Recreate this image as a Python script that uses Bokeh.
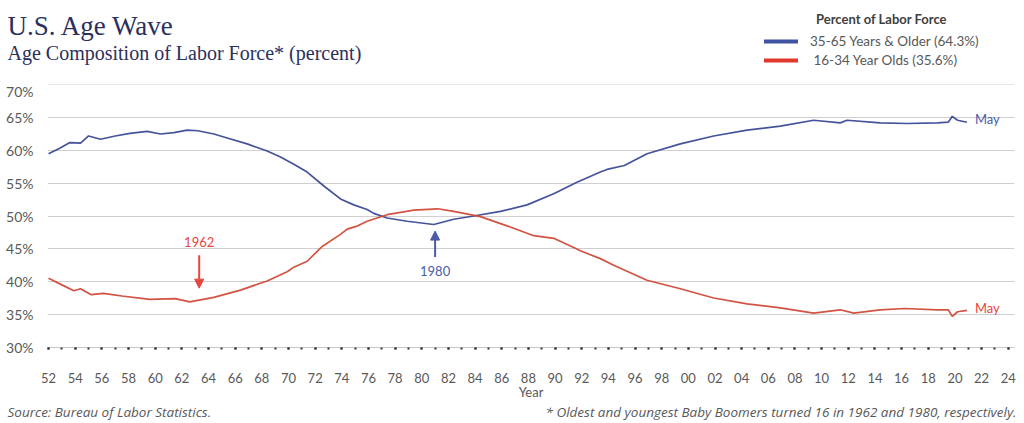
from bokeh.plotting import figure
from bokeh.layouts import column
from bokeh.models import Label, Arrow, NormalHead, FixedTicker, PrintfTickFormatter, Legend, LegendItem
from bokeh.embed import file_html
from bokeh.resources import INLINE

# ---- data ----
older_years = [1952.0, 1952.8, 1953.6, 1954.4, 1955.0, 1955.9, 1957.0, 1958.1, 1959.4, 1960.4,
               1961.4, 1962.4, 1963.2, 1964.4, 1965.4, 1966.9, 1968.4, 1969.4, 1970.4, 1971.4,
               1972.7, 1973.9, 1974.9, 1975.9, 1976.4, 1977.4, 1978.9, 1980.9, 1982.4, 1983.9,
               1985.9, 1987.9, 1989.9, 1991.6, 1993.4, 1993.9, 1995.2, 1996.9, 1999.4, 2001.9,
               2004.4, 2006.9, 2009.4, 2011.4, 2011.9, 2014.4, 2016.4, 2018.7, 2019.5, 2019.8,
               2020.2, 2020.9]
older_pct = [59.5, 60.3, 61.2, 61.1, 62.2, 61.7, 62.2, 62.6, 62.9, 62.5,
             62.7, 63.1, 63.0, 62.5, 61.9, 61.0, 59.9, 59.0, 57.9, 56.7,
             54.5, 52.6, 51.7, 51.0, 50.4, 49.7, 49.2, 48.7, 49.5, 50.0,
             50.7, 51.7, 53.4, 55.1, 56.7, 57.1, 57.7, 59.5, 61.0, 62.2,
             63.1, 63.7, 64.6, 64.2, 64.6, 64.2, 64.1, 64.2, 64.3, 65.2,
             64.6, 64.3]

young_years = [1952.0, 1953.0, 1953.9, 1954.4, 1955.2, 1956.1, 1957.5, 1959.6, 1961.5, 1962.6,
               1964.4, 1966.4, 1968.4, 1969.9, 1970.4, 1971.4, 1972.5, 1973.9, 1974.4, 1975.2,
               1975.9, 1977.4, 1979.4, 1981.2, 1982.4, 1984.4, 1986.4, 1988.4, 1989.9, 1991.4,
               1991.9, 1993.4, 1994.4, 1996.9, 1999.4, 2001.9, 2004.4, 2006.9, 2009.4, 2011.4,
               2012.4, 2014.4, 2016.2, 2018.7, 2019.5, 2019.8, 2020.2, 2020.9]
young_pct = [40.5, 39.5, 38.6, 38.9, 38.0, 38.2, 37.8, 37.3, 37.4, 36.9,
             37.6, 38.7, 40.1, 41.5, 42.2, 43.1, 45.3, 47.2, 48.0, 48.5,
             49.2, 50.2, 50.9, 51.1, 50.7, 49.9, 48.5, 47.0, 46.6, 45.2,
             44.7, 43.5, 42.5, 40.2, 38.9, 37.5, 36.6, 36.0, 35.2, 35.7,
             35.2, 35.7, 35.9, 35.7, 35.7, 34.7, 35.4, 35.6]

x_ticks = list(range(1952, 2025, 2))
x_tick_labels = ["52", "54", "56", "58", "60", "62", "64", "66", "68", "70", "72", "74",
                 "76", "78", "80", "82", "84", "86", "88", "90", "92", "94", "96", "98",
                 "00", "02", "04", "06", "08", "10", "12", "14", "16", "18", "20", "22", "24"]
x_minor = list(range(1952, 2025))
y_ticks = [30, 35, 40, 45, 50, 55, 60, 65, 70]

legend_labels = ["35-65 Years & Older (64.3%)", " 16-34 Year Olds (35.6%)"]

# ---- styling ----
W = 1020
SANS = "Lato"
SERIF = "Liberation Serif"
NAVY = "#2b2f5e"
BLUE_LINE = "#3b4a96"
RED_LINE = "#d04a38"
BLUE_TXT = "#4a5ca8"
RED_TXT = "#e8453c"
GRAY_TXT = "#595959"


def blank(height):
    f = figure(width=W, height=height, output_backend="svg", toolbar_location=None,
               x_range=(0, W), y_range=(height, 0), x_axis_type=None, y_axis_type=None,
               min_border=0, frame_align=False)
    f.outline_line_color = None
    f.xgrid.visible = False
    f.ygrid.visible = False
    return f


# ---- header: titles and legend ----
hdr = blank(82)
hdr.add_layout(Label(x=7, y=25, text="U.S. Age Wave", text_font=SERIF, text_font_size="27px",
                     text_color=NAVY, text_baseline="alphabetic"))
hdr.add_layout(Label(x=7, y=52, text="Age Composition of Labor Force* (percent)",
                     text_font=SERIF, text_font_size="20px", text_color=NAVY,
                     text_baseline="alphabetic"))
hdr.add_layout(Label(x=881, y=18, text="Percent of Labor Force", text_font=SANS,
                     text_font_size="13px", text_font_style="bold", text_color="#404040",
                     text_align="center", text_baseline="middle"))
# legend swatches: the series themselves, drawn thick (they fall outside this strip's range)
lg_b = hdr.line(older_years, older_pct, line_color="#3f52a3", line_width=4, line_cap="round")
lg_r = hdr.line(young_years, young_pct, line_color="#e0382d", line_width=4, line_cap="round")
legend = Legend(items=[LegendItem(label=legend_labels[0], renderers=[lg_b]),
                       LegendItem(label=legend_labels[1], renderers=[lg_r])],
                location=(764, 14), glyph_width=34, glyph_height=16, label_height=16,
                label_standoff=12, spacing=3, padding=0, margin=0,
                border_line_color=None, background_fill_alpha=0,
                label_text_font=SANS, label_text_font_size="13.5px", label_text_color=GRAY_TXT)
hdr.add_layout(legend)

# ---- main chart ----
p = figure(width=W, height=320, output_backend="svg", toolbar_location=None,
           x_range=(1951.92, 2024.47), y_range=(29.95, 70.05), frame_align=False,
           min_border_left=47, min_border_right=W - 1014, min_border_top=2, min_border_bottom=52)
p.outline_line_color = None
p.xgrid.grid_line_color = None
p.ygrid.grid_line_color = "#cfcfcf"
p.ygrid.grid_line_width = 1

xa = p.xaxis[0]
xa.ticker = FixedTicker(ticks=x_ticks, minor_ticks=x_minor)
xa.major_label_overrides = dict(zip(x_ticks, x_tick_labels))
xa.axis_line_color = "#c8c8c8"
xa.major_tick_line_color = "#333333"
xa.major_tick_line_width = 2
xa.major_tick_in = 0
xa.major_tick_out = 2
xa.minor_tick_line_color = "#333333"
xa.minor_tick_line_width = 2
xa.minor_tick_in = 0
xa.minor_tick_out = 2
xa.major_label_standoff = 23
xa.major_label_text_font = SANS
xa.major_label_text_font_size = "13px"
xa.major_label_text_color = GRAY_TXT
xa.axis_label = "Year"
xa.axis_label_standoff = -2
xa.axis_label_text_font = SANS
xa.axis_label_text_font_size = "13px"
xa.axis_label_text_font_style = "normal"
xa.axis_label_text_color = GRAY_TXT

ya = p.yaxis[0]
ya.ticker = FixedTicker(ticks=y_ticks)
ya.formatter = PrintfTickFormatter(format="%d%%")
ya.axis_line_color = None
ya.major_tick_line_color = None
ya.major_tick_out = 0
ya.major_tick_in = 0
ya.minor_tick_line_color = None
ya.minor_tick_out = 0
ya.major_label_standoff = 14
ya.major_label_text_font = SANS
ya.major_label_text_font_size = "14px"
ya.major_label_text_color = GRAY_TXT

p.line(older_years, older_pct, line_color=BLUE_LINE, line_width=1.7, line_alpha=0.95)
p.line(young_years, young_pct, line_color=RED_LINE, line_width=1.7, line_alpha=0.95)

p.add_layout(Arrow(end=NormalHead(size=9, fill_color=RED_TXT, line_color=RED_TXT),
                   x_start=1963.3, y_start=44.0, x_end=1963.3, y_end=39.0,
                   line_color=RED_TXT, line_width=2))
p.add_layout(Label(x=1963.3, y=46.1, text="1962", text_font=SANS, text_font_size="13px",
                   text_color=RED_TXT, text_align="center", text_baseline="middle"))
p.add_layout(Arrow(end=NormalHead(size=9, fill_color=BLUE_TXT, line_color=BLUE_TXT),
                   x_start=1981.0, y_start=43.75, x_end=1981.0, y_end=47.7,
                   line_color=BLUE_TXT, line_width=2))
p.add_layout(Label(x=1981.0, y=41.6, text="1980", text_font=SANS, text_font_size="13px",
                   text_color=BLUE_TXT, text_align="center", text_baseline="middle"))
p.add_layout(Label(x=2021.5, y=64.8, text="May", text_font=SANS, text_font_size="13px",
                   text_color=BLUE_TXT, text_align="left", text_baseline="middle"))
p.add_layout(Label(x=2021.5, y=36.0, text="May", text_font=SANS, text_font_size="13px",
                   text_color=RED_TXT, text_align="left", text_baseline="middle"))

# ---- footer ----
FOOT = "Open Sans"
ftr = blank(19)
ftr.add_layout(Label(x=7, y=9, text="Source: Bureau of Labor Statistics.",
                     text_font=FOOT, text_font_size="13.5px", text_font_style="italic",
                     text_color=GRAY_TXT, text_baseline="middle"))
ftr.add_layout(Label(x=1016, y=9,
                     text="* Oldest and youngest Baby Boomers turned 16 in 1962 and 1980, respectively.",
                     text_font=FOOT, text_font_size="13.5px", text_font_style="italic",
                     text_color=GRAY_TXT, text_align="right", text_baseline="middle"))

layout = column(hdr, p, ftr)
open("out.html", "w").write(file_html(layout, INLINE))
